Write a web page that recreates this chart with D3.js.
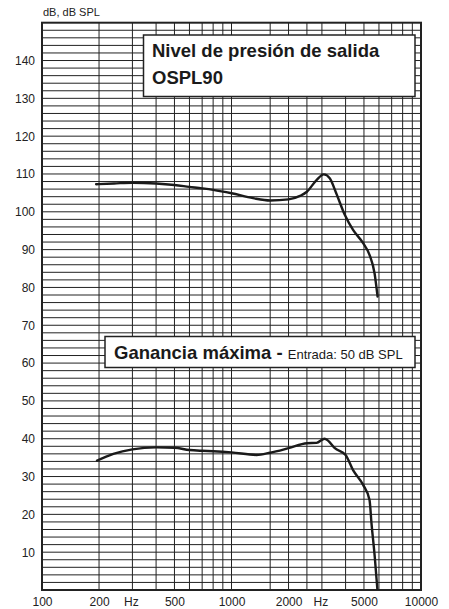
<!DOCTYPE html>
<html><head><meta charset="utf-8">
<script src="https://cdn.jsdelivr.net/npm/d3@7"></script>
<style>
html,body{margin:0;padding:0;background:#fff;}
svg{display:block;font-family:"Liberation Sans",Arial,Helvetica,sans-serif;}
</style></head>
<body>
<svg id="c" width="449" height="609"></svg>
<script>
// ---- data ----
const xTickValues = [100, 200, 500, 1000, 2000, 5000, 10000];
const xTickLabels = ["100", "200", "500", "1000", "2000", "5000", "10000"];
const hzLabelFreqs = [300, 3000];
const yTickValues = [10, 20, 30, 40, 50, 60, 70, 80, 90, 100, 110, 120, 130, 140];
const gridFreqs = [200, 300, 400, 500, 600, 700, 800, 900, 1000, 1600, 2000, 2500, 3000, 4000, 5000, 6000, 7000, 8000, 9000];
const gridDb = d3.range(2, 150, 2);

const osplFreq = [193, 240, 300, 400, 500, 600, 700, 800, 1000, 1300, 1600, 2000, 2300, 2500, 2810, 3070, 3300, 3570, 3960, 4380, 4950, 5350, 5690, 5900];
const osplDb   = [107.3, 107.5, 107.7, 107.5, 107.1, 106.6, 106.2, 105.8, 104.9, 103.6, 103.0, 103.3, 104.2, 105.3, 108.4, 109.9, 108.9, 104.9, 99.2, 95.2, 91.7, 88.6, 83.7, 77.6];

const gainFreq = [193, 238, 300, 400, 500, 600, 700, 800, 1000, 1355, 1600, 2000, 2500, 2810, 3100, 3230, 3510, 4000, 4380, 4950, 5350, 5480, 5700, 5890];
const gainDb   = [34.1, 36.0, 37.2, 37.7, 37.6, 37.0, 36.8, 36.7, 36.4, 35.7, 36.3, 37.5, 38.8, 38.9, 40.0, 39.5, 37.5, 35.7, 31.7, 27.8, 23.8, 17.6, 8.8, 0];

const yAxisTitle = "dB, dB SPL";
const box1Lines = ["Nivel de presión de salida", "OSPL90"];
const box2Bold = "Ganancia máxima - ";
const box2Normal = "Entrada: 50 dB SPL";

// ---- scales ----
const L = 42, R = 421, T = 22.7, B = 590;
const x = d3.scaleLog().domain([100, 10000]).range([L, R]);
const y = d3.scaleLinear().domain([0, 150]).range([B, T]);

const svg = d3.select("#c");

// grid
const g = svg.append("g");
g.selectAll("line.h").data(gridDb).join("line")
  .attr("x1", L).attr("x2", R)
  .attr("y1", d => y(d)).attr("y2", d => y(d))
  .attr("stroke", "#222").attr("stroke-width", 1);
g.selectAll("line.v").data(gridFreqs).join("line")
  .attr("x1", d => x(d)).attr("x2", d => x(d))
  .attr("y1", T).attr("y2", B)
  .attr("stroke", "#222").attr("stroke-width", 1);

// frame
svg.append("rect").attr("x", L).attr("y", T).attr("width", R - L).attr("height", B - T)
  .attr("fill", "none").attr("stroke", "#222").attr("stroke-width", 2);

// axes labels via d3 axes (no lines)
const xAxis = d3.axisBottom(x).tickValues(xTickValues)
  .tickFormat((d, i) => xTickLabels[i]).tickSize(0).tickPadding(0);
const xg = svg.append("g").attr("transform", `translate(0,${B})`).call(xAxis);
xg.select(".domain").remove();
xg.selectAll("text").attr("y", 16).attr("dy", 0).attr("font-size", 12)
  .attr("fill", "#222").attr("font-family", "Liberation Sans, Arial, sans-serif");
svg.selectAll("text.hz").data(hzLabelFreqs).join("text")
  .attr("x", d => x(d) - 1).attr("y", B + 16).attr("text-anchor", "middle")
  .attr("font-size", 12).attr("fill", "#222").text("Hz");

const yAxis = d3.axisLeft(y).tickValues(yTickValues).tickSize(0).tickPadding(7);
const yg = svg.append("g").attr("transform", `translate(${L},0)`).call(yAxis);
yg.select(".domain").remove();
yg.selectAll("text").attr("font-size", 12).attr("fill", "#222")
  .attr("font-family", "Liberation Sans, Arial, sans-serif");

svg.append("text").attr("x", L + 1).attr("y", 16).attr("font-size", 11)
  .attr("fill", "#222").text(yAxisTitle);

// curves
const line = d3.line().x(d => x(d[0])).y(d => y(d[1])).curve(d3.curveMonotoneX);
svg.append("path").datum(d3.zip(osplFreq, osplDb)).attr("d", line)
  .attr("fill", "none").attr("stroke", "#1a1a1a").attr("stroke-width", 2.4)
  .attr("stroke-linejoin", "round").attr("stroke-linecap", "round");
svg.append("path").datum(d3.zip(gainFreq, gainDb)).attr("d", line)
  .attr("fill", "none").attr("stroke", "#1a1a1a").attr("stroke-width", 2.4)
  .attr("stroke-linejoin", "round");

// box 1
svg.append("rect").attr("x", 143.5).attr("y", 35).attr("width", 271.5).attr("height", 61.5)
  .attr("fill", "#fff").attr("stroke", "#222").attr("stroke-width", 1.5);
svg.append("text").attr("x", 152).attr("y", 56.5).attr("font-size", 18.5).attr("font-weight", "bold")
  .attr("fill", "#1a1a1a").text(box1Lines[0]);
svg.append("text").attr("x", 152).attr("y", 84).attr("font-size", 18.5).attr("font-weight", "bold")
  .attr("fill", "#1a1a1a").text(box1Lines[1]);

// box 2
svg.append("rect").attr("x", 105).attr("y", 336.5).attr("width", 310).attr("height", 31)
  .attr("fill", "#fff").attr("stroke", "#222").attr("stroke-width", 1.5);
const t2 = svg.append("text").attr("x", 114).attr("y", 359).attr("fill", "#1a1a1a");
t2.append("tspan").attr("font-size", 18.5).attr("font-weight", "bold").text(box2Bold);
t2.append("tspan").attr("font-size", 13).text(box2Normal);
</script>
</body></html>
